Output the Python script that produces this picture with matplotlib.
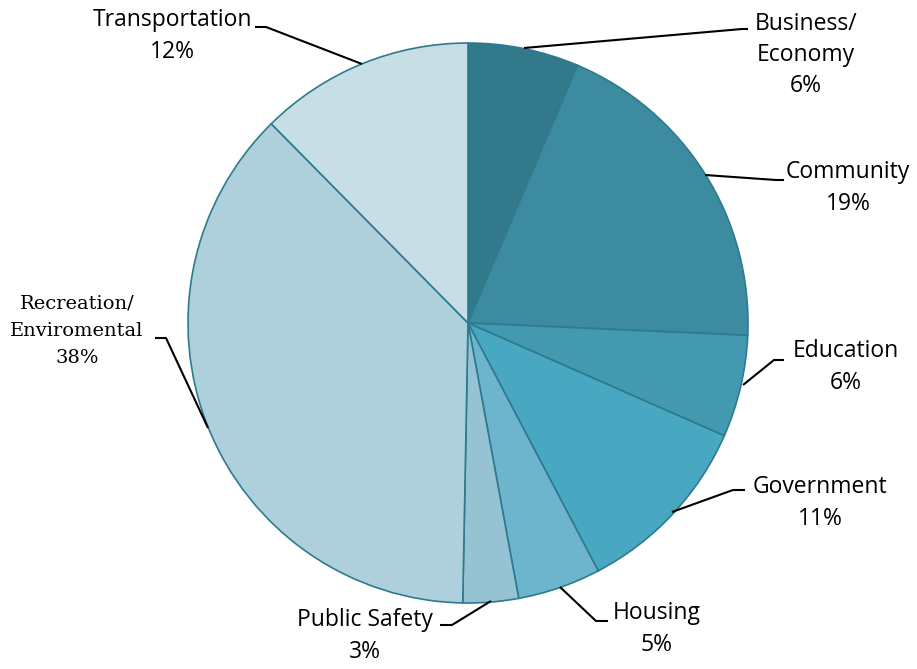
import matplotlib.pyplot as plt

categories = ["Business/\nEconomy", "Community", "Education", "Government",
              "Housing", "Public Safety", "Recreation/\nEnviromental", "Transportation"]
shares = [6.4, 19.3, 5.9, 10.7, 4.8, 3.2, 37.3, 12.4]
pct_labels = ["6%", "19%", "6%", "11%", "5%", "3%", "38%", "12%"]

colors = ["#32798b", "#3d8ba0", "#4399b0", "#48a8c1", "#6cb5cc",
          "#96c3d3", "#aed0dd", "#c7dee6"]

# label layout in pixels: (edge point, elbow point, elbow end, text block centre)
layout = [
    ((524, 48), (742, 29), (748, 29), (806, 55)),
    ((705, 175), (776, 180), (784, 180), (848, 188)),
    ((743, 385), (774, 360), (784, 360), (846, 367)),
    ((672, 512), (733, 490), (745, 490), (820, 503)),
    ((560, 587), (596, 621), (608, 621), (657, 629)),
    ((491, 601), (452, 625), (440, 625), (365, 636)),
    ((208, 428), (166, 338), (155, 338), (77, 331)),
    ((362, 64), (266, 27), (255, 27), (172, 36)),
]

W, H = 917, 669
cx, cy, R = 468, 323, 280


def to_data(p):
    return ((p[0] - cx) / R, (cy - p[1]) / R)


fig = plt.figure(figsize=(W / 100, H / 100), dpi=100)
ax = fig.add_axes([0, 0, 1, 1])
ax.pie(shares, colors=colors, startangle=90, counterclock=False, radius=1,
       wedgeprops=dict(edgecolor="#2e7a8e", linewidth=1.2))
ax.set_xlim(-cx / R, (W - cx) / R)
ax.set_ylim(-(H - cy) / R, cy / R)
ax.set_aspect("equal")
ax.axis("off")

for i, (cat, pct) in enumerate(zip(categories, pct_labels)):
    edge, elbow, end, txt = layout[i]
    pts = [to_data(edge), to_data(elbow), to_data(end)]
    ax.plot([p[0] for p in pts], [p[1] for p in pts], color="black", lw=1.5,
            solid_capstyle="butt")
    tx, ty = to_data(txt)
    if cat.startswith("Recreation"):
        ax.text(tx, ty, cat + "\n" + pct, ha="center", va="center",
                fontsize=14, family="DejaVu Serif", linespacing=1.65)
    else:
        ax.text(tx, ty, cat + "\n" + pct, ha="center", va="center",
                fontsize=16.5, family="Open Sans", linespacing=1.4)

fig.savefig("out.png", dpi=100)
